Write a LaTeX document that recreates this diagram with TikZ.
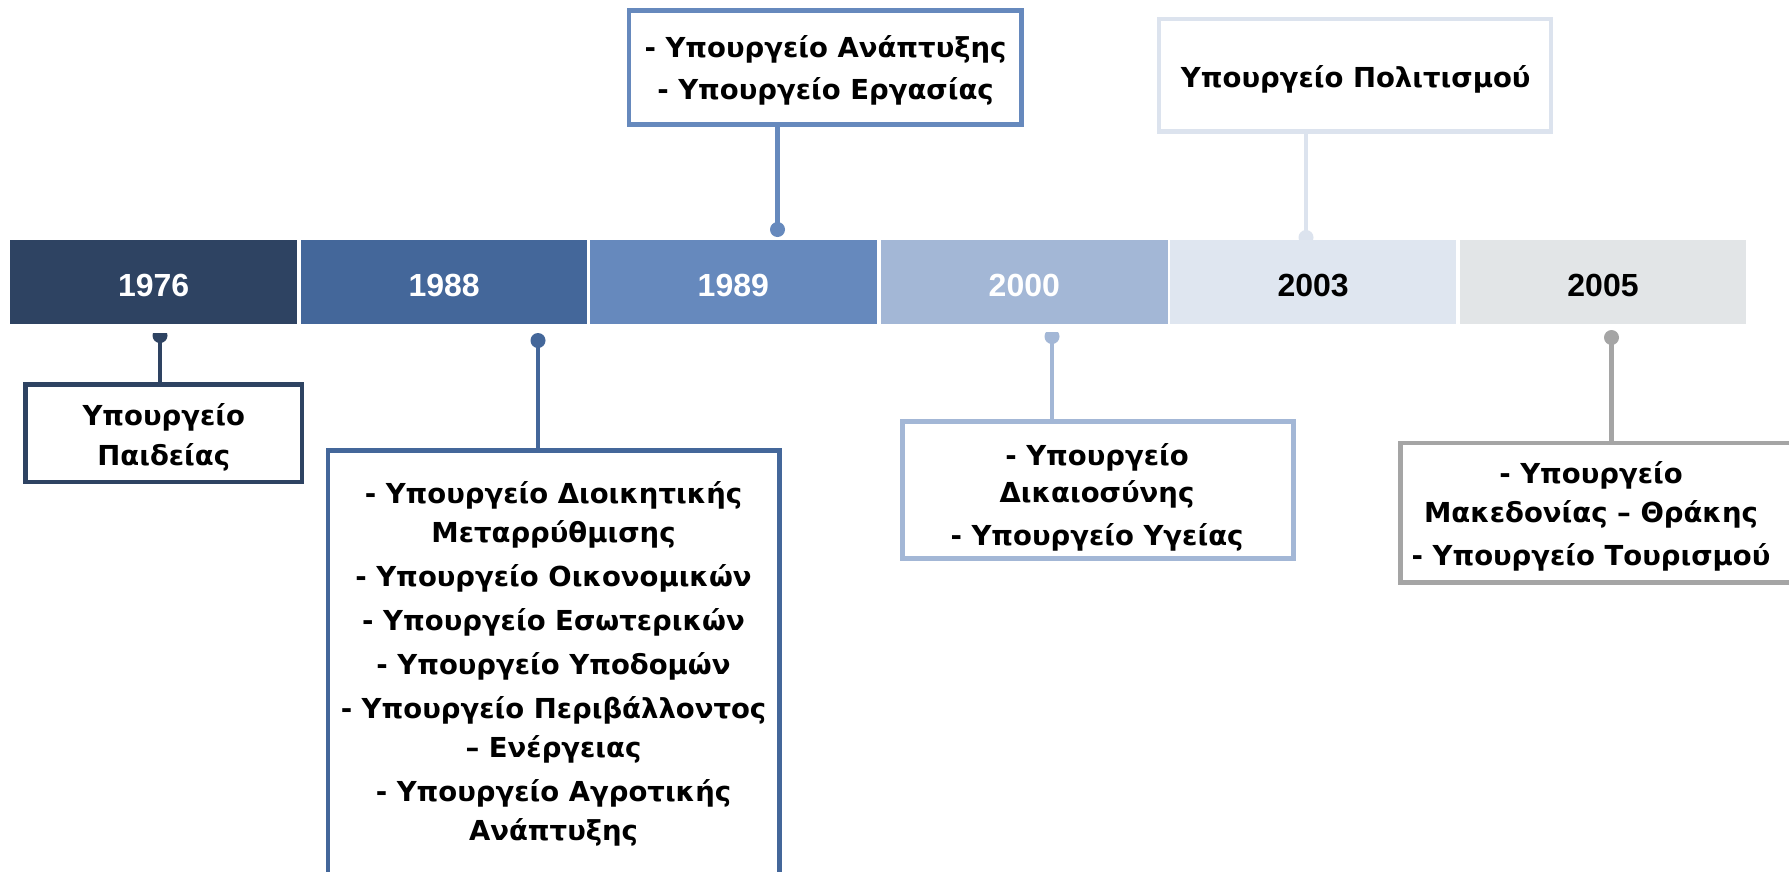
\documentclass[tikz,border=0pt]{standalone}
\usepackage{fontspec}
\setmainfont{Liberation Sans}
\newfontfamily\boxfont{DejaVu Sans}
\definecolor{cA}{HTML}{2E4362}
\definecolor{cB}{HTML}{44679A}
\definecolor{cC}{HTML}{6689BD}
\definecolor{cD}{HTML}{A3B7D6}
\definecolor{cE}{HTML}{DFE6F0}
\definecolor{cF}{HTML}{E2E5E7}
\definecolor{cG}{HTML}{A5A5A5}
\definecolor{cH}{HTML}{DCE3EE}
\begin{document}
\begin{tikzpicture}[x=1pt,y=-1pt,
  seg/.style={draw=none, fill=#1, inner sep=0pt, outer sep=0pt, minimum width=286.5pt, minimum height=84.5pt, anchor=north west},
  yr/.style={font=\fontsize{32}{38}\selectfont\bfseries, text=#1, anchor=base, inner sep=0pt},
  card/.style={draw=#1, line width=4.5pt, fill=white, inner sep=0pt},
  txt/.style={font=\boxfont\fontsize{27.5}{39}\selectfont\bfseries, align=center, anchor=base, inner sep=0pt},
  link/.style={draw=#1, line width=4.5pt},
  ]
\useasboundingbox (0,0) rectangle (1789,871);
\clip (0,0) rectangle (1789,871);
\fill[white] (0,0) rectangle (1789,871);

% dots above the bar (drawn first, the bar covers part of them)
\coordinate (d3) at (777.5,229.5);
\coordinate (d5) at (1306,237.5);
\fill[cC] (d3) circle (7.5);
\fill[cH] (d5) circle (7.5);

% bar segments
\node[seg=cA] (s1) at (10.3,239.5) {};
\node[seg=cB] (s2) at (300.8,239.5) {};
\node[seg=cC] (s3) at (590,239.5) {};
\node[seg=cD] (s4) at (881,239.5) {};
\node[seg=cE] (s5) at (1169.9,239.5) {};
\node[seg=cF] (s6) at (1459.7,239.5) {};

\node[yr=white] (y1) at (153.6,296.7) {1976};
\node[yr=white] (y2) at (444.1,296.7) {1988};
\node[yr=white] (y3) at (733.3,296.7) {1989};
\node[yr=white] (y4) at (1024.3,296.7) {2000};
\node[yr=black] (y5) at (1313.2,296.7) {2003};
\node[yr=black] (y6) at (1603,296.7) {2005};

% dots below the bar
\coordinate (d1) at (160,335.5);
\coordinate (d2) at (538,340.5);
\coordinate (d4) at (1052,336.5);
\coordinate (d6) at (1611.5,337.5);
\begin{scope}
\clip (150,333) rectangle (170,350);
\fill[cA] (d1) circle (7.5);
\end{scope}
\begin{scope}
\clip (1042,332) rectangle (1062,350);
\fill[cD] (d4) circle (7.5);
\end{scope}
\fill[cB] (d2) circle (7.5);
\fill[cG] (d6) circle (7.5);

% boxes
\node[card=cA, minimum width=276.5pt, minimum height=97.5pt] (b1) at (163.75,433.25) {};
\node[card=cB, minimum width=451.5pt, minimum height=429.5pt] (b2) at (553.75,665.25) {};
\node[card=cC, minimum width=392.5pt, minimum height=114pt] (b3) at (825.25,67.5) {};
\node[card=cD, minimum width=391pt, minimum height=137pt] (b4) at (1098,490) {};
\node[card=cH, minimum width=392pt, minimum height=112.5pt] (b5) at (1355,75.25) {};
\node[card=cG, minimum width=399.5pt, minimum height=139.5pt] (b6) at (1600.25,512.75) {};

% connectors
\draw[link=cA] (d1) -- (d1 |- b1.north);
\draw[link=cB] (d2) -- (d2 |- b2.north);
\draw[link=cC] (d3) -- (d3 |- b3.south);
\draw[link=cD] (d4) -- (d4 |- b4.north);
\draw[link=cH] (d5) -- (d5 |- b5.south);
\draw[link=cG] (d6) -- (d6 |- b6.north);

% texts (anchored at the baseline of the last line)
\node[txt] (t1) at (163.75,465) {Υπουργείο\\[1pt]Παιδείας};
\node[txt] (t2) at (553.5,840) {- Υπουργείο Διοικητικής\\Μεταρρύθμισης\\[5pt]- Υπουργείο Οικονομικών\\[5pt]- Υπουργείο Εσωτερικών\\[5pt]- Υπουργείο Υποδομών\\[5pt]- Υπουργείο Περιβάλλοντος\\– Ενέργειας\\[5pt]- Υπουργείο Αγροτικής\\Ανάπτυξης};
\node[txt] (t3) at (825.5,99.3) {- Υπουργείο Ανάπτυξης\\[3pt]- Υπουργείο Εργασίας};
\node[txt] (t4) at (1097,545) {- Υπουργείο\\[-2pt]Δικαιοσύνης\\[4pt]- Υπουργείο Υγείας};
\node[txt] (t5) at (1355.7,87.3) {Υπουργείο Πολιτισμού};
\node[txt] (t6) at (1591,565) {- Υπουργείο\\Μακεδονίας – Θράκης\\[4pt]- Υπουργείο Τουρισμού};
\end{tikzpicture}
\end{document}
